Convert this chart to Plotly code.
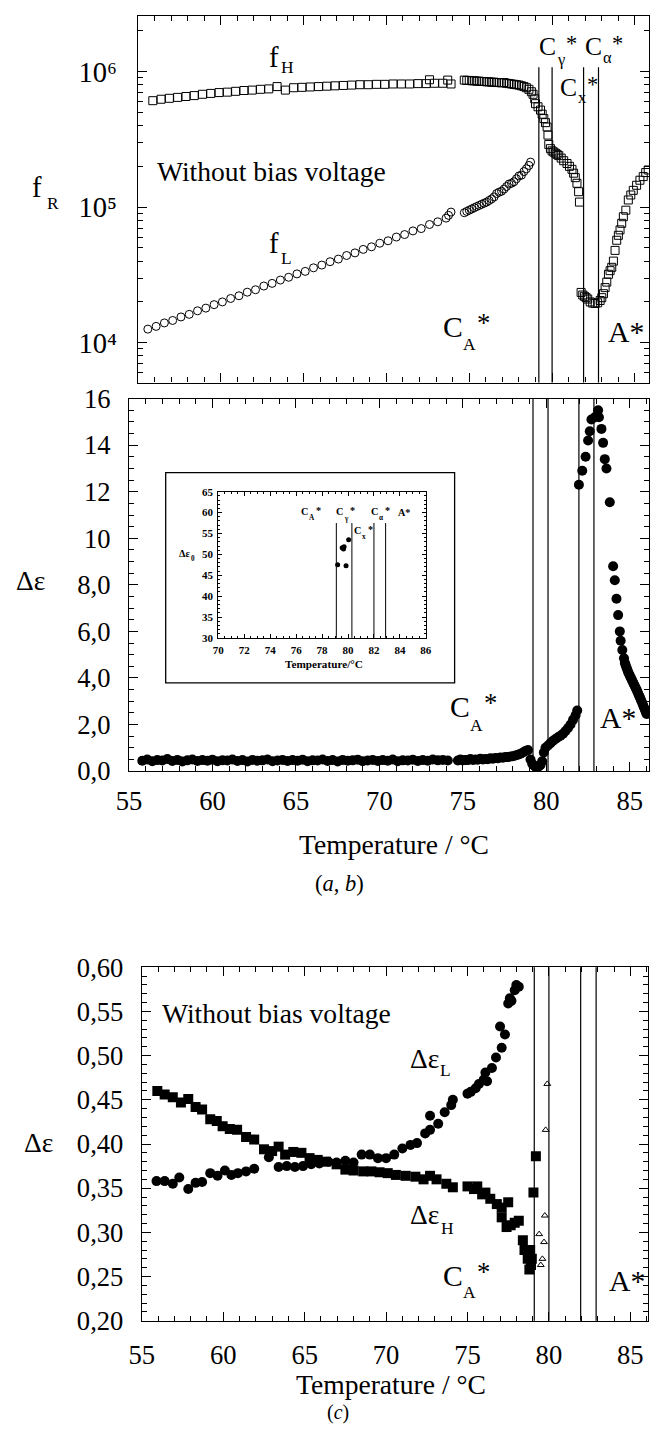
import plotly.graph_objects as go

W, H = 656, 1439
SERIF = "Liberation Serif"
# the photographed page comes out slightly shrunk about its centre; positions below are
# measured on the reference and mapped to page pixels with this factor
SHRINK, CX, CY = 0.978, 328.0, 719.5
FS = 1 / SHRINK


def X(x):
    return CX + (x - CX) / SHRINK


def Y(y):
    return CY + (y - CY) / SHRINK


def px(x, lo=1, hi=W - 1):
    return min(max(X(x), lo), hi) / W


def py(y, lo=1, hi=H - 1):
    return 1 - min(max(Y(y), lo), hi) / H


# ---------------- data ----------------
# transition temperatures (vertical lines)
trans_a = [79.2, 80.0, 81.9, 82.8]
trans_b = [79.2, 80.1, 81.95, 82.85]
trans_c = [79.1, 80.0, 81.95, 82.9]
trans_inset = [79.1, 80.3, 82.0, 82.9]

# panel (a): relaxation frequencies
fH_open_T = [55.9, 56.4, 56.9, 57.4, 57.9, 58.4, 58.9, 59.4, 59.9, 60.4, 60.9, 61.4, 61.9, 62.4, 62.9,
             63.4, 63.9, 64.4, 64.9, 65.4, 65.9, 66.4, 66.9, 67.4, 67.9, 68.4, 68.9, 69.4, 69.9, 70.4,
             70.9, 71.4, 71.9, 72.4, 72.9, 73.4, 73.9, 72.6, 73.7]
fH_open_V = [6.1e5, 6.25e5, 6.35e5, 6.45e5, 6.55e5, 6.65e5, 6.8e5, 6.9e5, 7.0e5, 7.05e5, 7.15e5, 7.25e5,
             7.3e5, 7.4e5, 7.45e5, 7.75e5, 7.3e5, 7.6e5, 7.65e5, 7.7e5, 7.75e5, 7.8e5, 7.85e5, 7.9e5,
             7.95e5, 8.0e5, 8.0e5, 8.05e5, 8.05e5, 8.1e5, 8.1e5, 8.1e5, 8.15e5, 8.15e5, 8.2e5, 8.2e5,
             8.1e5, 8.7e5, 8.65e5]
fH_dense_T = [74.7, 74.85, 75.0, 75.15, 75.3, 75.45, 75.6, 75.75, 75.9, 76.05, 76.2, 76.35, 76.5, 76.65,
              76.8, 76.95, 77.1, 77.25, 77.4, 77.55, 77.7, 77.85, 78.0, 78.15, 78.3, 78.45, 78.6, 78.75,
              78.85, 78.95, 79.0, 79.15, 79.3, 79.4, 79.5, 79.6, 79.7, 79.75, 79.8, 79.9, 80.0, 80.1,
              80.2, 80.3, 80.4, 80.55, 80.7, 80.9, 81.05, 81.2, 81.3, 81.4, 81.5, 81.6, 81.65]
fH_dense_V = [8.65e5, 8.6e5, 8.6e5, 8.55e5, 8.55e5, 8.5e5, 8.5e5, 8.45e5, 8.45e5, 8.4e5, 8.4e5, 8.35e5,
              8.35e5, 8.3e5, 8.3e5, 8.25e5, 8.3e5, 8.2e5, 8.15e5, 8.1e5, 8.05e5, 8.0e5, 7.95e5, 7.85e5,
              7.75e5, 7.6e5, 7.4e5, 7.1e5,
              6.8e5, 6.3e5, 5.8e5, 5.5e5, 5.2e5, 4.85e5, 4.5e5, 4.2e5, 3.9e5, 3.4e5, 2.9e5, 2.7e5,
              2.6e5, 2.55e5, 2.5e5, 2.45e5, 2.4e5, 2.3e5, 2.2e5, 2.1e5, 2.0e5, 1.9e5, 1.78e5, 1.65e5,
              1.5e5, 1.3e5, 1.09e5]
fH_high_T = [81.75, 81.85, 81.95, 82.05, 82.15, 82.3, 82.45, 82.6, 82.75, 82.9, 83.0, 83.1, 83.2, 83.3,
             83.4, 83.5, 83.6, 83.7, 83.8, 83.9, 84.0, 84.1, 84.2, 84.3, 84.45, 84.6, 84.75, 84.9,
             85.1, 85.3, 85.5, 85.65, 85.8]
fH_high_V = [2.35e4, 2.25e4, 2.2e4, 2.15e4, 2.1e4, 2.0e4, 1.96e4, 1.95e4, 1.97e4, 2.05e4, 2.15e4, 2.3e4,
             2.55e4, 2.8e4, 3.2e4, 3.4e4, 3.6e4, 4.0e4, 4.8e4, 5.7e4, 6.2e4, 6.8e4, 7.6e4, 8.5e4,
             9.5e4, 1.13e5, 1.23e5, 1.33e5, 1.45e5, 1.58e5, 1.68e5, 1.80e5, 1.88e5]

fL_open_T = [55.6, 56.1, 56.6, 57.1, 57.6, 58.1, 58.6, 59.1, 59.6, 60.1, 60.6, 61.1, 61.6, 62.1, 62.6,
             63.1, 63.6, 64.1, 64.6, 65.1, 65.6, 66.1, 66.6, 67.1, 67.6, 68.1, 68.6, 69.1, 69.6, 70.1,
             70.6, 71.1, 71.6, 72.1, 72.6, 73.1, 73.6, 73.9, 73.75]
fL_open_V = [1.26e4, 1.32e4, 1.40e4, 1.46e4, 1.55e4, 1.62e4, 1.72e4, 1.80e4, 1.91e4, 2.00e4, 2.12e4,
             2.22e4, 2.36e4, 2.46e4, 2.62e4, 2.74e4, 2.90e4, 3.04e4, 3.22e4, 3.36e4, 3.57e4, 3.74e4,
             3.96e4, 4.14e4, 4.40e4, 4.60e4, 4.88e4, 5.10e4, 5.42e4, 5.65e4, 6.02e4, 6.28e4, 6.68e4,
             6.95e4, 7.45e4, 7.8e4, 8.3e4, 9.2e4, 8.7e4]
fL_dense_T = [74.7, 74.85, 75.0, 75.15, 75.3, 75.45, 75.6, 75.75, 75.9, 76.05, 76.2, 76.35, 76.5, 76.65,
              76.8, 76.95, 77.1, 77.25, 77.4, 77.55, 77.7, 77.85, 78.0, 78.15, 78.3, 78.45, 78.6, 78.7]
fL_dense_V = [9.1e4, 9.3e4, 9.5e4, 9.7e4, 9.9e4, 10.1e4, 10.3e4, 10.5e4, 10.7e4, 10.9e4, 11.2e4, 11.5e4,
              11.9e4, 12.6e4, 12.9e4, 13.1e4, 13.6e4, 14.2e4, 14.8e4, 15.0e4, 15.4e4, 16.2e4, 17.0e4,
              17.2e4, 18.3e4, 19.2e4, 20.3e4, 21.5e4]

# panel (b): dielectric strength
b_T = [55.8, 56.1, 56.4, 56.7, 57.0, 57.3, 57.6, 57.9, 58.2, 58.5, 58.8, 59.1, 59.4, 59.7, 60.0, 60.3,
       60.6, 60.9, 61.2, 61.5, 61.8, 62.1, 62.4, 62.7, 63.0, 63.3, 63.6, 63.9, 64.2, 64.5, 64.8, 65.1,
       65.4, 65.7, 66.0, 66.3, 66.6, 66.9, 67.2, 67.5, 67.8, 68.1, 68.4, 68.7, 69.0, 69.3, 69.6, 69.9,
       70.2, 70.5, 70.8, 71.1, 71.4, 71.7, 72.0, 72.3, 72.6, 72.9, 73.2, 73.5, 73.8, 74.1,
       74.7, 74.85, 75.0, 75.15, 75.3, 75.45, 75.6, 75.75, 75.9, 76.05, 76.2, 76.35, 76.5, 76.65,
       76.8, 76.95, 77.1, 77.25, 77.4, 77.55, 77.7, 77.85, 78.0, 78.15, 78.3, 78.45, 78.6, 78.75, 78.9,
       79.05, 79.15, 79.25, 79.35, 79.45, 79.55, 79.65, 79.75, 79.85, 79.95, 80.1, 80.25, 80.4, 80.55,
       80.7, 80.85, 81.0, 81.15, 81.3, 81.45, 81.6, 81.75, 81.85,
       81.95, 82.15, 82.35, 82.5, 82.6, 82.7, 82.9, 83.1, 83.15, 83.3, 83.4, 83.5, 83.6, 83.8, 84.0,
       84.1, 84.2, 84.3, 84.4, 84.45, 84.55,
       84.65, 84.7, 84.75, 84.8, 84.85, 84.9, 84.95, 85.0, 85.05, 85.1, 85.15, 85.2, 85.25, 85.3,
       85.35, 85.4, 85.45, 85.5, 85.55, 85.6, 85.65, 85.7, 85.75, 85.8, 85.85, 85.9, 85.95, 86.0]
b_V = [0.44, 0.50, 0.42, 0.47, 0.45, 0.52, 0.43, 0.48, 0.41, 0.46, 0.50, 0.43, 0.47, 0.44, 0.49, 0.42,
       0.46, 0.45, 0.50, 0.43, 0.47, 0.41, 0.48, 0.44, 0.46, 0.50, 0.42, 0.45, 0.48, 0.43, 0.47, 0.44,
       0.49, 0.42, 0.46, 0.45, 0.50, 0.43, 0.47, 0.41, 0.48, 0.44, 0.46, 0.49, 0.42, 0.45, 0.48, 0.43,
       0.47, 0.44, 0.50, 0.42, 0.46, 0.45, 0.49, 0.43, 0.47, 0.44, 0.50, 0.46, 0.48, 0.45,
       0.45, 0.50, 0.46, 0.48, 0.47, 0.52, 0.48, 0.50, 0.49, 0.53, 0.50, 0.52, 0.51, 0.55,
       0.53, 0.56, 0.55, 0.58, 0.57, 0.60, 0.60, 0.63, 0.64, 0.67, 0.70, 0.74, 0.80, 0.86, 0.90,
       0.50, 0.32, 0.24, 0.19, 0.18, 0.20, 0.26, 0.42, 0.80, 1.00, 1.10, 1.20, 1.30, 1.38,
       1.45, 1.52, 1.60, 1.72, 1.85, 2.00, 2.20, 2.40, 2.60,
       12.3, 12.9, 13.5, 14.2, 14.6, 15.1, 15.2, 15.5, 15.2, 14.7, 14.1, 13.4, 13.0, 11.55, 8.8,
       8.2, 7.4, 6.7, 6.0, 5.6, 5.2,
       4.85, 4.65, 4.55, 4.45, 4.35, 4.25, 4.17, 4.10, 4.02, 3.95, 3.87, 3.80, 3.72, 3.65,
       3.57, 3.50, 3.42, 3.33, 3.25, 3.17, 3.08, 3.00, 2.91, 2.82, 2.73, 2.64, 2.55, 2.45]

# inset: Δε0
inset_T = [79.2, 79.85, 79.55, 79.7, 79.65, 80.05]
inset_V = [47.5, 47.3, 51.6, 51.8, 51.3, 53.5]

# panel (c)
cL_T = [55.9, 56.4, 56.9, 57.3, 57.85, 58.3, 58.7, 59.2, 59.65, 60.1, 60.5, 60.9, 61.4, 61.9, 62.8,
        63.4, 63.9, 64.4, 64.9, 65.4, 65.9, 66.45, 66.96, 67.5, 68.0, 68.5, 69.0, 69.5, 70.0, 70.5,
        71.0, 71.5, 71.9, 72.4, 72.7, 72.7, 73.2, 73.6, 74.0, 74.1, 75.0, 75.2, 75.5, 75.7, 76.0,
        76.2, 76.1, 76.5, 76.75, 77.1, 77.0, 77.3, 77.5, 77.6, 77.9, 78.15, 77.7, 78.0]
cL_V = [0.358, 0.358, 0.355, 0.362, 0.349, 0.356, 0.357, 0.367, 0.364, 0.370, 0.365, 0.367, 0.369,
        0.372, 0.385, 0.374, 0.375, 0.374, 0.375, 0.377, 0.378, 0.380, 0.379, 0.381, 0.379, 0.388,
        0.388, 0.384, 0.384, 0.388, 0.395, 0.399, 0.401, 0.412, 0.416, 0.432, 0.423, 0.436, 0.444,
        0.450, 0.457, 0.459, 0.463, 0.468, 0.473, 0.471, 0.481, 0.486, 0.498, 0.509, 0.533, 0.524,
        0.559, 0.565, 0.574, 0.578, 0.562, 0.580]
cH_T = [55.95, 56.4, 56.9, 57.4, 57.85, 58.3, 58.7, 59.2, 59.6, 59.96, 60.4, 60.85, 61.4, 61.9, 62.5,
        63.0, 63.4, 63.8, 64.3, 64.8, 65.3, 65.8, 66.3, 66.96, 67.5, 68.0, 68.6, 69.1, 69.6, 70.1,
        70.6, 71.2, 71.8, 72.3, 72.7, 73.1, 73.7, 74.1, 75.0, 75.4, 75.6, 75.9, 76.1, 76.4, 76.8,
        77.1, 77.5, 77.1, 77.4, 77.65, 77.9, 78.15, 78.4, 78.5, 78.7, 78.85, 78.9, 79.05, 79.2,
        78.8, 78.95]
cH_V = [0.460, 0.456, 0.453, 0.447, 0.451, 0.442, 0.439, 0.428, 0.426, 0.420, 0.417, 0.416, 0.408,
        0.405, 0.394, 0.392, 0.397, 0.388, 0.391, 0.390, 0.384, 0.382, 0.380, 0.377, 0.371, 0.370,
        0.369, 0.369, 0.368, 0.367, 0.365, 0.364, 0.363, 0.360, 0.364, 0.360, 0.355, 0.351, 0.352,
        0.349, 0.352, 0.343, 0.345, 0.338, 0.332, 0.328, 0.334, 0.317, 0.306, 0.308, 0.311, 0.313,
        0.291, 0.280, 0.270, 0.280, 0.263, 0.345, 0.386, 0.258, 0.270]
tri_T = [79.9, 79.8, 79.75, 79.4, 79.7, 79.6, 79.5]
tri_V = [0.468, 0.416, 0.319, 0.298, 0.289, 0.270, 0.263]

# tick labels
a_tickvals = [1e4, 1e5, 1e6]
a_ticktext = ["10\u2074", "10\u2075", "10\u2076"]
a_minor = [6e3, 7e3, 8e3, 9e3, 2e4, 3e4, 4e4, 5e4, 6e4, 7e4, 8e4, 9e4,
           2e5, 3e5, 4e5, 5e5, 6e5, 7e5, 8e5, 9e5, 2e6]
b_tickvals = [0, 2, 4, 6, 8, 10, 12, 14, 16]
b_ticktext = ["0,0", "2,0", "4,0", "6,0", "8,0", "10", "12", "14", "16"]
c_tickvals = [0.20, 0.25, 0.30, 0.35, 0.40, 0.45, 0.50, 0.55, 0.60]
c_ticktext = ["0,20", "0,25", "0,30", "0,35", "0,40", "0,45", "0,50", "0,55", "0,60"]
x_tickvals = [55, 60, 65, 70, 75, 80, 85]
inset_xticks = [70, 72, 74, 76, 78, 80, 82, 84, 86]
inset_yticks = [30, 35, 40, 45, 50, 55, 60, 65]

# ---------------- figure ----------------
fig = go.Figure()

BLK = "black"
open_sq = dict(symbol="square-open", size=8, color=BLK, line=dict(width=1, color=BLK))
open_ci = dict(symbol="circle-open", size=8, color=BLK, line=dict(width=1, color=BLK))

for xs, ys, m in [(fH_open_T, fH_open_V, open_sq), (fH_dense_T, fH_dense_V, open_sq),
                  (fH_high_T, fH_high_V, open_sq), (fL_open_T, fL_open_V, open_ci),
                  (fL_dense_T, fL_dense_V, open_ci)]:
    fig.add_trace(go.Scatter(x=xs, y=ys, mode="markers", marker=m, xaxis="x", yaxis="y",
                             showlegend=False))

fig.add_trace(go.Scatter(x=b_T, y=b_V, mode="markers", marker=dict(symbol="circle", size=10, color=BLK),
                         xaxis="x2", yaxis="y2", showlegend=False))

fig.add_trace(go.Scatter(x=inset_T, y=inset_V, mode="markers",
                         marker=dict(symbol="circle", size=5, color=BLK),
                         xaxis="x4", yaxis="y4", showlegend=False))

fig.add_trace(go.Scatter(x=cL_T, y=cL_V, mode="markers", marker=dict(symbol="circle", size=10, color=BLK),
                         xaxis="x3", yaxis="y3", showlegend=False))
fig.add_trace(go.Scatter(x=cH_T, y=cH_V, mode="markers", marker=dict(symbol="square", size=10, color=BLK),
                         xaxis="x3", yaxis="y3", showlegend=False))
fig.add_trace(go.Scatter(x=tri_T, y=tri_V, mode="markers",
                         marker=dict(symbol="triangle-up-open", size=6, color=BLK, line=dict(width=1)),
                         xaxis="x3", yaxis="y3", showlegend=False))

TICKFONT = dict(family=SERIF, size=round(26 * FS, 1), color=BLK)


def axis(**kw):
    base = dict(showline=True, linecolor=BLK, linewidth=1.3, mirror="allticks", ticks="inside",
                ticklen=9, tickwidth=1.2, tickcolor=BLK, showgrid=False, zeroline=False,
                tickfont=TICKFONT)
    base.update(kw)
    return base


xminor = dict(ticks="inside", ticklen=5, tickwidth=1, tickcolor=BLK, dtick=1, tick0=55)
inset_font = dict(family=SERIF, size=11, color=BLK, weight="bold")

layout = dict(
    width=W, height=H, margin=dict(l=0, r=0, t=0, b=0), autosize=False,
    paper_bgcolor="white", plot_bgcolor="white", showlegend=False,
    xaxis=axis(domain=[px(133), px(654)], range=[55, 85.85], anchor="y", tickvals=x_tickvals,
               showticklabels=False, minor=xminor),
    yaxis=axis(domain=[py(383), py(13)], type="log", range=[3.706, 6.41], anchor="x",
               tickvals=a_tickvals, ticktext=a_ticktext, ticklabelstandoff=14,
               tickfont=dict(family=SERIF, size=round(28 * FS, 1), color=BLK),
               minor=dict(ticks="inside", ticklen=5, tickwidth=1, tickcolor=BLK, tickvals=a_minor)),
    xaxis2=axis(domain=[px(124), px(651)], range=[55, 86.15], anchor="y2", tickvals=x_tickvals,
                minor=xminor, ticklabelstandoff=6),
    yaxis2=axis(domain=[py(771), py(399)], range=[0, 16], anchor="x2", tickvals=b_tickvals,
                ticktext=b_ticktext, ticklabelstandoff=12,
                minor=dict(ticks="inside", ticklen=5, tickwidth=1, tickcolor=BLK, dtick=0.5)),
    xaxis3=axis(domain=[px(137), px(647)], range=[55, 86.1], anchor="y3", tickvals=x_tickvals,
                minor=xminor, ticklabelstandoff=10),
    yaxis3=axis(domain=[py(1320), py(967)], range=[0.2, 0.6], anchor="x3", tickvals=c_tickvals,
                ticktext=c_ticktext, ticklabelstandoff=12,
                minor=dict(ticks="inside", ticklen=5, tickwidth=1, tickcolor=BLK, dtick=0.01)),
    xaxis4=axis(domain=[px(214), px(423)], range=[70, 86], anchor="y4", tickvals=inset_xticks,
                ticklen=4, linewidth=1, ticklabelstandoff=2, tickfont=inset_font,
                minor=dict(ticks="inside", ticklen=2, tickwidth=0.8, tickcolor=BLK, dtick=0.5)),
    yaxis4=axis(domain=[py(638), py(492)], range=[30, 65], anchor="x4", tickvals=inset_yticks,
                ticklen=4, linewidth=1, ticklabelstandoff=2, tickfont=inset_font,
                minor=dict(ticks="inside", ticklen=2, tickwidth=0.8, tickcolor=BLK, dtick=1)),
)
fig.update_layout(**layout)

# vertical transition lines
LINE = dict(color=BLK, width=1.2)
for t in trans_a:
    fig.add_shape(type="line", xref="x", yref="y domain", x0=t, x1=t, y0=0, y1=0.86, line=LINE)
for t in trans_b:
    fig.add_shape(type="line", xref="x2", yref="y2 domain", x0=t, x1=t, y0=0, y1=1, line=LINE)
for t in trans_c:
    fig.add_shape(type="line", xref="x3", yref="y3 domain", x0=t, x1=t, y0=0, y1=1, line=LINE)
for t in trans_inset:
    fig.add_shape(type="line", xref="x4", yref="y4", x0=t, x1=t, y0=30, y1=57.5,
                  line=dict(color=BLK, width=1))

# inset outer frame
fig.add_shape(type="rect", xref="paper", yref="paper", x0=px(161), x1=px(452), y0=py(683), y1=py(473),
              line=dict(color=BLK, width=1.3))


def note(text, x, y, size=26, bold=False, page_y=None):
    font = dict(family=SERIF, size=round(size * FS, 1), color=BLK)
    if bold:
        font["weight"] = "bold"
    yy = (1 - page_y / H) if page_y is not None else py(y)
    fig.add_annotation(text=text, x=px(x), y=yy, xref="paper", yref="paper",
                       showarrow=False, font=font, xanchor="center", yanchor="middle")


def label(base, sub, star, bx, by, sx, sy, size, subsize, stx=None, sty=None, starsize=None,
          bold=False):
    """base letter(s), a lowered index to its right and an optional asterisk after it"""
    note(base, bx, by, size, bold)
    note(sub, sx, sy, subsize, bold)
    if star:
        note("*", stx, sty, starsize or size, bold)


# panel (a) texts
label("f", "R", False, 31, 188, 47, 204, 28, 17)
label("f", "H", False, 270, 58, 284, 68, 28, 17)
label("f", "L", False, 270, 244, 283, 259, 28, 17)
note("Without bias voltage", 268, 172, size=27)
label("C", "A", True, 450, 327, 467, 344, 29, 17, 481, 323, 26)
note("A*", 625, 332, size=29)
label("C", "γ", True, 546, 47, 559.5, 60, 25, 16, 570, 44, 22)
label("C", "α", True, 592, 47, 605.5, 58, 25, 16, 616.5, 44, 22)
label("C", "x", True, 567, 88, 580.5, 98, 25, 16, 591, 85, 22)

# panel (b) texts
note("Δε", 25, 581, size=27)
label("C", "A", True, 457, 707, 474, 725, 29, 17, 488, 703, 26)
note("A*", 617, 718, size=29)
note("Temperature / °C", 391, 844, size=27)
note("(<i>a</i>, <i>b</i>)", 336, 883, size=22)

# inset texts
label("C", "A", True, 301, 512, 308, 518, 10, 7, 314.5, 511, 10, bold=True)
label("C", "γ", True, 336, 512, 343, 519, 10, 7, 349, 511, 10, bold=True)
label("C", "x", True, 354, 531, 361, 537, 10, 7, 367, 530, 10, bold=True)
label("C", "α", True, 371, 512, 378, 518, 10, 7, 384.5, 511, 10, bold=True)
note("A*", 401, 513, size=10, bold=True)
label("Δε", "0", False, 180, 554, 188.5, 559, 10, 7, bold=True)
note("Temperature/°C", 320, 664, size=11, bold=True)

# panel (c) texts
note("Δε", 33, 1142, size=27)
note("Without bias voltage", 273, 1013, size=27)
label("Δε", "L", False, 422, 1058, 443, 1070, 27, 17)
label("Δε", "H", False, 422, 1214, 444.5, 1227, 27, 17)
label("C", "A", True, 450, 1275, 467, 1291, 29, 17, 481, 1271, 26)
note("A*", 626, 1280, size=29)
note("Temperature / °C", 388, 1384, size=27)
note("(<i>c</i>)", 335, None, size=19.5, page_y=1427.5)

fig.write_html(
    "out.html",
    config={"displayModeBar": False},
    post_script="document.body.style.margin='0';document.body.style.overflow='hidden';",
)
